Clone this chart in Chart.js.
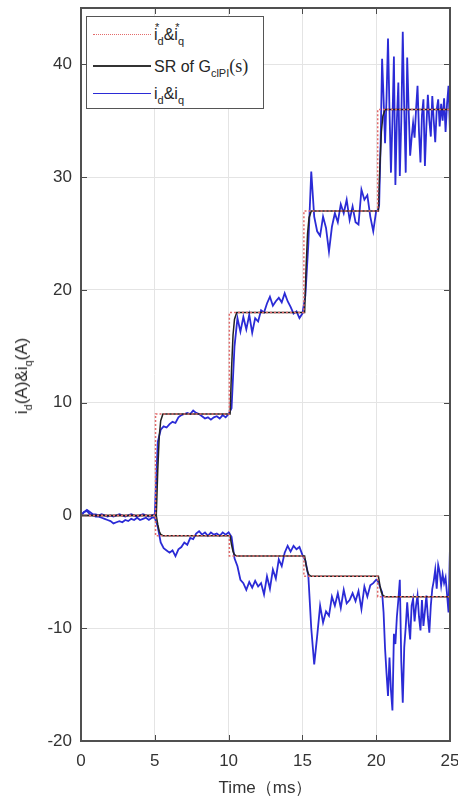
<!DOCTYPE html>
<html>
<head>
<meta charset="utf-8">
<script src="https://cdn.jsdelivr.net/npm/chart.js@4.4.1/dist/chart.umd.min.js"></script>
<style>
    html, body { margin: 0; padding: 0; background: #fff; }
    #wrap { position: relative; width: 458px; height: 799px; font-family: "Liberation Sans", Arial, sans-serif; color: #262626; }
    #chart { position: absolute; left: 0; top: 0; }
    #legend { position: absolute; left: 86px; top: 16px; width: 176px; height: 91px; border: 1.5px solid #555; background: #fff; }
    #legend .row { position: absolute; left: 0; height: 20px; width: 100%; }
    #legend .swatch { position: absolute; left: 6px; top: 9px; width: 58px; height: 0; }
    #legend .lbl { position: absolute; left: 67px; top: 0; font-size: 16px; line-height: 20px; white-space: nowrap; }
    .istar { position: relative; }
    .star { position: absolute; left: 1px; top: -9px; font-size: 11px; }
    sub { font-size: 11px; vertical-align: -5px; line-height: 0; }
    .serif { font-family: "Liberation Serif", "DejaVu Serif", serif; font-size: 18px; }
    #ytitle { position: absolute; left: 22px; top: 376px; transform: translate(-50%, -50%) rotate(-90deg); font-size: 17px; white-space: nowrap; }
</style>
</head>
<body>
<div id="wrap">
    <canvas id="chart" width="458" height="799"></canvas>
    <div id="ytitle">i<sub>d</sub>(A)&amp;i<sub>q</sub>(A)</div>
    <div id="legend">
        <div class="row" style="top:8px">
            <span class="swatch" style="border-top:1.5px dotted #e36b6b"></span>
            <span class="lbl"><span class="istar">i<span class="star">*</span></span><sub>d</sub>&amp;<span class="istar">i<span class="star">*</span></span><sub>q</sub></span>
        </div>
        <div class="row" style="top:39px">
            <span class="swatch" style="border-top:2px solid #333"></span>
            <span class="lbl">SR of G<sub>clPI</sub><span class="serif">(s)</span></span>
        </div>
        <div class="row" style="top:67px">
            <span class="swatch" style="border-top:1.5px solid #2b2bd6"></span>
            <span class="lbl">i<sub>d</sub>&amp;i<sub>q</sub></span>
        </div>
    </div>
</div>
<script>
// Step response test: measured d/q currents, references and simulated response (SR)

// time axis of the measured currents (ms)
const timeMs = [
    0, 0.2, 0.4, 0.6, 0.8, 1, 1.2, 1.4, 1.6, 1.8, 2, 2.2, 2.4, 2.6, 2.8, 3, 3.2, 3.4, 3.6, 3.8,
    4, 4.2, 4.4, 4.6, 4.8, 5, 5.2, 5.4, 5.6, 5.8, 6, 6.2, 6.4, 6.6, 6.8, 7, 7.2, 7.4, 7.6, 7.8,
    8, 8.2, 8.4, 8.6, 8.8, 9, 9.2, 9.4, 9.6, 9.8, 10, 10.2, 10.4, 10.6, 10.8, 11, 11.2, 11.4, 11.6, 11.8,
    12, 12.2, 12.4, 12.6, 12.8, 13, 13.2, 13.4, 13.6, 13.8, 14, 14.2, 14.4, 14.6, 14.8, 15, 15.2, 15.4, 15.6, 15.8,
    16, 16.2, 16.4, 16.6, 16.8, 17, 17.2, 17.4, 17.6, 17.8, 18, 18.2, 18.4, 18.6, 18.8, 19, 19.2, 19.4, 19.6, 19.8,
    20, 20.1, 20.2, 20.3, 20.4, 20.5, 20.6, 20.7, 20.8, 20.9, 21, 21.1, 21.2, 21.3, 21.4, 21.5, 21.6, 21.7, 21.8, 21.9,
    22, 22.1, 22.2, 22.3, 22.4, 22.5, 22.6, 22.7, 22.8, 22.9, 23, 23.1, 23.2, 23.3, 23.4, 23.5, 23.6, 23.7, 23.8, 23.9,
    24, 24.1, 24.2, 24.3, 24.4, 24.5, 24.6, 24.7, 24.8, 24.9, 25
];

// measured q-axis current (A)
const iqMeasured = [
    0, 0.3, 0.5, 0.3, 0.1, 0.1, 0.0, 0.1, 0.0, -0.1, 0.0, -0.1, 0.0, 0.1, 0.0, -0.1, 0.0, 0.1, 0.0, -0.1,
    0.0, 0.1, 0.0, -0.1, 0.0, 0.1, 6.5, 7.6, 7.9, 7.8, 8.1, 8.3, 8.2, 8.7, 8.9, 9.0, 9.1, 9.0, 9.3, 9.1,
    9.0, 8.8, 8.6, 8.7, 8.5, 8.7, 8.8, 8.6, 8.9, 8.7, 9.0, 9.5, 15.0, 17.5, 16.3, 17.6, 16.5, 17.8, 16.2, 17.5,
    17.2, 18.2, 18.0, 18.8, 19.4, 18.6, 19.0, 19.3, 18.9, 19.7, 19.0, 18.5, 17.9, 18.1, 17.5, 17.9, 19.5, 24.0, 30.5, 26.5,
    25.2, 24.8, 26.5, 25.5, 23.4, 25.6, 26.8, 26.0, 27.6, 26.8, 28.0, 26.2, 27.4, 26.0, 25.8, 28.9, 28.0, 28.4, 26.5, 25.2,
    27.0, 27.0, 27.5, 33.0, 40.5, 37.0, 33.0, 37.0, 42.3, 36.0, 30.4, 35.0, 40.7, 29.3, 35.0, 38.4, 30.1, 35.0, 42.9, 36.0,
    30.4, 40.6, 36.0, 31.9, 33.5, 34.8, 33.5, 36.0, 38.1, 34.0, 31.3, 35.5, 36.9, 31.0, 34.5, 37.3, 35.0, 33.6, 37.2, 35.0,
    33.1, 36.0, 36.9, 34.5, 36.5, 35.0, 37.0, 34.0, 36.5, 38.1, 34.0
];

// measured d-axis current (A)
const idMeasured = [
    0, 0.3, 0.4, 0.1, 0.0, -0.1, -0.1, -0.2, -0.3, -0.4, -0.5, -0.7, -0.6, -0.5, -0.6, -0.4, -0.5, -0.3, -0.4, -0.2,
    -0.4, -0.3, -0.2, -0.4, -0.2, -0.2, -1.0, -2.4, -2.9, -3.1, -3.3, -3.1, -3.6, -3.0, -2.8, -2.4, -2.6, -2.0, -2.1, -1.6,
    -1.4, -1.7, -1.5, -1.8, -1.5, -1.7, -1.6, -1.8, -1.5, -1.7, -1.5, -1.9, -3.8, -4.5, -5.7, -6.0, -6.6, -5.9, -6.4, -5.8,
    -6.3, -6.0, -7.0, -5.4, -6.5, -4.8, -5.6, -3.9, -4.5, -3.3, -2.7, -3.2, -2.7, -3.0, -2.8, -3.5, -4.0, -5.3, -10.0, -13.2,
    -10.7, -8.0, -9.5, -8.5, -8.9, -7.2, -8.0, -6.9, -8.2, -6.6, -7.8, -7.5, -6.9, -7.6, -6.7, -8.3, -6.3, -7.2, -6.2, -6.0,
    -5.7, -5.8, -6.1, -6.5, -6.8, -8.6, -11.8, -14.0, -16.0, -12.6, -15.5, -17.3, -10.5, -11.4, -9.0, -7.5, -5.7, -13.0, -16.6, -11.7,
    -9.9, -7.7, -9.5, -11.0, -8.0, -7.4, -9.4, -8.0, -7.1, -9.0, -10.2, -7.5, -9.8, -8.5, -7.1, -9.0, -10.4, -8.0, -6.5, -5.8,
    -4.8, -6.5, -4.4, -5.0, -6.2, -5.2, -6.0, -5.5, -7.0, -8.6, -2.7
];

// step references i_d*, i_q*
const refTime = [0, 5.05, 5.05, 10.05, 10.05, 15.1, 15.1, 20.1, 20.1, 25];
const iqRef = [0, 0, 9, 9, 18, 18, 27, 27, 36, 36];
const idRef = [0, 0, -1.8, -1.8, -3.6, -3.6, -5.4, -5.4, -7.2, -7.2];

// simulated step response of the closed loop PI, G_clPI(s)
const srTime = [0, 5.1, 5.2, 5.3, 5.4, 5.55, 10.1, 10.2, 10.3, 10.4, 10.55,
    15.15, 15.25, 15.35, 15.45, 15.6, 20.15, 20.25, 20.35, 20.45, 20.6, 25];
const iqSR = [0, 0, 4, 7, 8.4, 9, 9, 13, 16, 17.4, 18,
    18, 22, 25, 26.4, 27, 27, 31, 34, 35.4, 36, 36];
const idSR = [0, 0, -0.8, -1.4, -1.68, -1.8, -1.8, -2.6, -3.2, -3.48, -3.6,
    -3.6, -4.4, -5.0, -5.28, -5.4, -5.4, -6.2, -6.8, -7.08, -7.2, -7.2];

// axis ticks
const xTicks = [0, 5, 10, 15, 20, 25];
const yTicks = [-20, -10, 0, 10, 20, 30, 40];

function toPoints(xs, ys) {
    return xs.map((x, i) => ({ x: x, y: ys[i] }));
}

// frame around the plot with small inward tick marks (MATLAB style)
const framePlugin = {
    id: 'frame',
    afterDraw(chart) {
        const ctx = chart.ctx;
        const a = chart.chartArea;
        const xs = chart.scales.x, ys = chart.scales.y;
        ctx.save();
        ctx.strokeStyle = '#4a4a4a';
        ctx.lineWidth = 1;
        xTicks.forEach(v => {
            const px = Math.round(xs.getPixelForValue(v)) + 0.5;
            ctx.beginPath();
            ctx.moveTo(px, a.bottom); ctx.lineTo(px, a.bottom - 6);
            ctx.moveTo(px, a.top); ctx.lineTo(px, a.top + 6);
            ctx.stroke();
        });
        yTicks.forEach(v => {
            const py = Math.round(ys.getPixelForValue(v)) + 0.5;
            ctx.beginPath();
            ctx.moveTo(a.left, py); ctx.lineTo(a.left + 6, py);
            ctx.moveTo(a.right, py); ctx.lineTo(a.right - 6, py);
            ctx.stroke();
        });
        ctx.lineWidth = 2;
        ctx.strokeStyle = '#505050';
        ctx.strokeRect(a.left, a.top, a.right - a.left, a.bottom - a.top);
        ctx.restore();
    }
};

const ctx = document.getElementById('chart').getContext('2d');
new Chart(ctx, {
    type: 'line',
    data: {
        datasets: [
            { data: toPoints(refTime, iqRef), borderColor: '#e36b6b', borderWidth: 1.5, borderDash: [2, 2] },
            { data: toPoints(refTime, idRef), borderColor: '#e36b6b', borderWidth: 1.5, borderDash: [2, 2] },
            { data: toPoints(srTime, iqSR), borderColor: '#222222', borderWidth: 1.5 },
            { data: toPoints(srTime, idSR), borderColor: '#222222', borderWidth: 1.5 },
            { data: toPoints(timeMs, iqMeasured), borderColor: '#2b2bd6', borderWidth: 1.8 },
            { data: toPoints(timeMs, idMeasured), borderColor: '#2b2bd6', borderWidth: 1.8 }
        ]
    },
    options: {
        responsive: false,
        animation: false,
        devicePixelRatio: 1,
        elements: {
            point: { radius: 0 },
            line: { tension: 0, fill: false }
        },
        layout: { padding: { top: 8, right: 8, left: 0, bottom: 0 } },
        plugins: {
            legend: { display: false },
            tooltip: { enabled: false }
        },
        scales: {
            x: {
                type: 'linear',
                min: 0,
                max: 25,
                afterBuildTicks: s => { s.ticks = xTicks.map(v => ({ value: v })); },
                afterFit: s => { s.height = 58; s.paddingLeft = 0; s.paddingRight = 0; },
                grid: { color: '#e4e4e4', drawTicks: false },
                border: { display: false },
                ticks: { color: '#333', padding: 10, font: { family: 'Liberation Sans', size: 17 } },
                title: {
                    display: true,
                    text: 'Time（ms）',
                    color: '#333',
                    padding: { top: 1, bottom: 0 },
                    font: { family: 'Liberation Sans', size: 17 }
                }
            },
            y: {
                min: -20,
                max: 45,
                afterBuildTicks: s => { s.ticks = yTicks.map(v => ({ value: v })); },
                afterFit: s => { s.width = 81; s.paddingTop = 0; s.paddingBottom = 0; },
                grid: { color: '#e4e4e4', drawTicks: false },
                border: { display: false },
                ticks: { color: '#333', padding: 9, font: { family: 'Liberation Sans', size: 17 } }
            }
        }
    },
    plugins: [framePlugin]
});
</script>
</body>
</html>
